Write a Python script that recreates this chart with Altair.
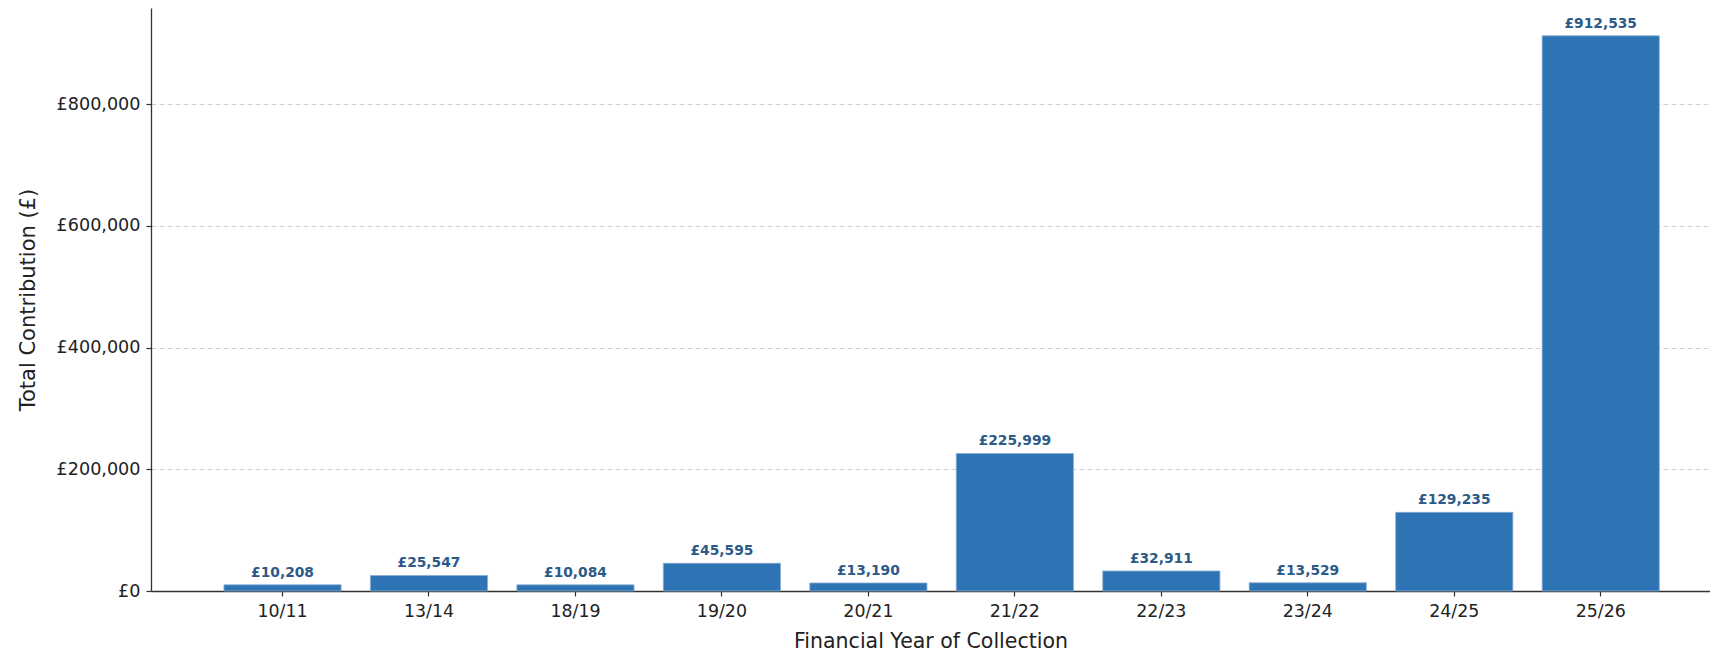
import altair as alt
import pandas as pd

years = ["10/11", "13/14", "18/19", "19/20", "20/21", "21/22", "22/23", "23/24", "24/25", "25/26"]
totals = [10208, 25547, 10084, 45595, 13190, 225999, 32911, 13529, 129235, 912535]
y_ticks = [0, 200000, 400000, 600000, 800000]
y_max = 958162

df = pd.DataFrame({"year": years, "total": totals})

FONT = "DejaVu Sans"

x_enc = alt.X(
    "year:N",
    sort=years,
    title="Financial Year of Collection",
    scale=alt.Scale(paddingInner=0.2, paddingOuter=0.422, align=0.59),
    axis=alt.Axis(
        labelAngle=0,
        labelFont=FONT,
        labelFontSize=17.4,
        labelColor="#222222",
        labelPadding=6,
        titleFont=FONT,
        titleFontSize=20.5,
        titleFontWeight="normal",
        titleColor="#222222",
        titlePadding=12,
        domainColor="#333333",
        domainWidth=1.3,
        tickColor="#333333",
        tickSize=5,
        tickWidth=1.2,
        grid=False,
    ),
)

y_enc = alt.Y(
    "total:Q",
    title="Total Contribution (£)",
    scale=alt.Scale(domain=[0, y_max], nice=False, zero=True),
    axis=alt.Axis(
        values=y_ticks,
        labelExpr="'£' + format(datum.value, ',')",
        labelFont=FONT,
        labelFontSize=17.6,
        labelColor="#222222",
        labelPadding=6,
        titleFont=FONT,
        titleFontSize=21,
        titleFontWeight="normal",
        titleColor="#222222",
        titlePadding=18,
        domainColor="#333333",
        domainWidth=1.3,
        tickColor="#333333",
        tickSize=5,
        tickWidth=1.2,
        grid=True,
        gridColor="#d0d0d0",
        gridDash=[5, 3],
        gridWidth=1,
    ),
)

bars = alt.Chart(df).mark_bar(
    color="#2e74b5", stroke="#8aaed2", strokeWidth=0.8
).encode(x=x_enc, y=y_enc)

labels = alt.Chart(df).transform_calculate(
    label="'£' + format(datum.total, ',')"
).mark_text(
    baseline="bottom", dy=-5, font=FONT, fontSize=13.8, fontWeight="bold", color="#2b5a88"
).encode(
    x=alt.X("year:N", sort=years),
    y=alt.Y("total:Q"),
    text="label:N",
)

chart = alt.layer(bars, labels).properties(
    width=1559,
    height=583,
    background="white",
    autosize=alt.AutoSizeParams(type="none"),
    padding={"left": 143, "top": 0, "right": 0, "bottom": 62},
).configure_view(stroke=None)

chart.save("out.html", embed_options={"renderer": "svg", "actions": False})
